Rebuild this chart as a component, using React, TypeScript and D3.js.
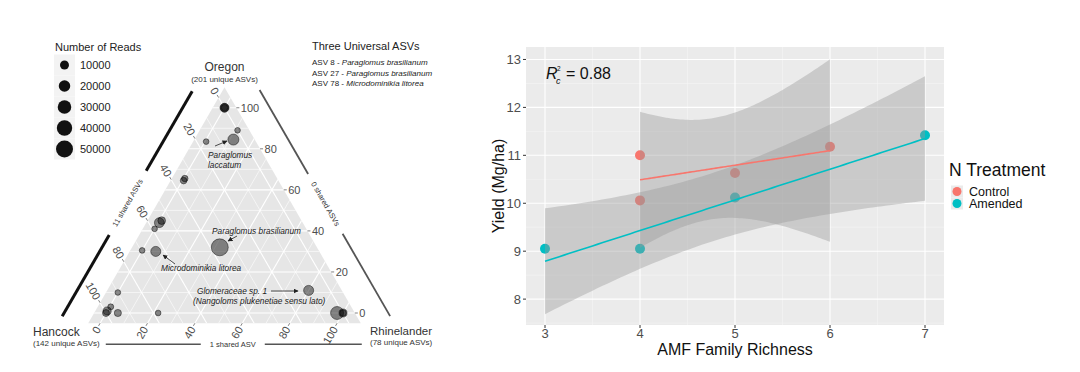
import React, { useEffect, useRef } from "react";
import * as d3 from "d3";

// ---- ternary panel (left) ----
const ternOregon = [100, 100, 100, 89, 84.5, 83.5, 64.5, 65.5, 44, 45, 41, 30.5, 30, 32, 10, 1, 0, 3, 0, 0, 11, 0, 0, 0];
const ternHancock = [0, 0, 0, 0, 4, 16, 35, 34, 55.5, 54, 59, 69.5, 64, 36, 90, 99, 100, 96.5, 95, 78, 9, 2.5, 0, 0];
const ternRhinelander = [0, 0, 0, 11, 11.5, 0.5, 0.5, 0.5, 0.5, 1, 0, 0, 6, 32, 0, 0, 0, 0.5, 5, 22, 80, 97.5, 100, 100];
const ternReads = [10000, 8000, 3000, 800, 18000, 800, 3000, 2500, 13000, 6000, 800, 800, 14000, 50000, 800, 7000, 4000, 1500, 4500, 800, 14000, 27000, 7000, 3000];
const readBreaks = [10000, 20000, 30000, 40000, 50000];
const ternTicks = [0, 20, 40, 60, 80, 100];
const universalAsvs = ["ASV 8", "ASV 27", "ASV 78"];
const universalTaxa = ["Paraglomus brasilianum", "Paraglomus brasilianum", "Microdominikia litorea"];

// ---- yield vs richness panel (right) ----
const controlRichness = [4, 4, 5, 6];
const controlYield = [11.0, 10.06, 10.63, 11.18];
const amendedRichness = [3, 4, 5, 7];
const amendedYield = [9.05, 9.05, 10.12, 11.42];
const xTicks = [3, 4, 5, 6, 7];
const yTicks = [8, 9, 10, 11, 12, 13];
const T_CRIT_DF2 = 4.302653;

const FONT = "'Liberation Sans', Arial, sans-serif";

function lmBand(xs: number[], ys: number[]) {
  const n = xs.length;
  const mx = d3.mean(xs)!;
  const my = d3.mean(ys)!;
  const sxx = d3.sum(xs, (x) => (x - mx) ** 2);
  const sxy = d3.sum(xs, (x, i) => (x - mx) * (ys[i] - my));
  const b = sxy / sxx;
  const a = my - b * mx;
  const sse = d3.sum(xs, (x, i) => (ys[i] - (a + b * x)) ** 2);
  const s = Math.sqrt(sse / (n - 2));
  const [x0, x1] = d3.extent(xs) as [number, number];
  return d3.range(81).map((i) => {
    const x = x0 + ((x1 - x0) * i) / 80;
    const fit = a + b * x;
    const se = s * Math.sqrt(1 / n + (x - mx) ** 2 / sxx);
    return { x, fit, lo: fit - T_CRIT_DF2 * se, hi: fit + T_CRIT_DF2 * se };
  });
}

export default function App() {
  const ref = useRef<SVGSVGElement>(null);

  useEffect(() => {
    const svg = d3.select(ref.current);
    svg.selectAll("*").remove();
    svg.append("rect").attr("width", 1080).attr("height", 372).attr("fill", "#fff");

    const defs = svg.append("defs");
    defs.append("marker").attr("id", "arr").attr("viewBox", "0 0 10 10")
      .attr("refX", 9).attr("refY", 5).attr("markerWidth", 5).attr("markerHeight", 5)
      .attr("markerUnits", "userSpaceOnUse").attr("orient", "auto")
      .append("path").attr("d", "M0,0L10,5L0,10Z").attr("fill", "#222");

    // ================= TERNARY =================
    const side = 237;
    const cx = 224.5;
    const baseY = 313;
    const h = (side * Math.sqrt(3)) / 2;
    const vT = [cx, baseY - h];
    const vL = [cx - side / 2, baseY];
    const vR = [cx + side / 2, baseY];
    const pct = d3.scaleLinear().domain([0, 100]).range([0, 1]);
    const proj = (o: number, hh: number, r: number) => {
      const sum = o + hh + r;
      const fo = pct(o) * 100 / sum, fh = pct(hh) * 100 / sum, fr = pct(r) * 100 / sum;
      return [vT[0] * fo + vL[0] * fh + vR[0] * fr, vT[1] * fo + vL[1] * fh + vR[1] * fr];
    };
    const k = 1.15;
    const cen = [cx, baseY - h / 3];
    const grow = (p: number[]) => [cen[0] + (p[0] - cen[0]) * k, cen[1] + (p[1] - cen[1]) * k];
    const gT = grow(vT), gL = grow(vL), gR = grow(vR);
    const triPath = `M${gT}L${gL}L${gR}Z`;

    defs.append("clipPath").attr("id", "triclip").append("path").attr("d", triPath);
    const tern = svg.append("g");
    tern.append("path").attr("d", triPath).attr("fill", "#e6e6e6");

    const grid = tern.append("g").attr("clip-path", "url(#triclip)");
    d3.range(0, 101, 10).forEach((v) => {
      const major = v % 20 === 0;
      const segs = [
        [proj(v, 130 - v, -30), proj(v, -30, 130 - v)],
        [proj(130 - v, v, -30), proj(-30, v, 130 - v)],
        [proj(130 - v, -30, v), proj(-30, 130 - v, v)],
      ];
      segs.forEach(([a, b]) => {
        grid.append("line").attr("x1", a[0]).attr("y1", a[1]).attr("x2", b[0]).attr("y2", b[1])
          .attr("stroke", "#fff").attr("stroke-width", major ? 1.1 : 0.6);
      });
    });

    // ticks and labels
    const inset = (k - 1) * side / (2 * Math.sqrt(3));
    const t0 = inset / Math.sin(Math.PI / 3);
    const axes = [
      { pt: (v: number) => proj(v, 0, 100 - v), dir: [1, 0], rot: 0, anchor: "start" },
      { pt: (v: number) => proj(100 - v, v, 0), dir: [-0.5, -Math.sqrt(3) / 2], rot: 60, anchor: "end" },
      { pt: (v: number) => proj(0, 100 - v, v), dir: [-0.5, Math.sqrt(3) / 2], rot: -60, anchor: "end" },
    ];
    axes.forEach((ax) => {
      ternTicks.forEach((v) => {
        const e = ax.pt(v);
        const a = [e[0] + ax.dir[0] * t0, e[1] + ax.dir[1] * t0];
        const b = [e[0] + ax.dir[0] * (t0 + 3), e[1] + ax.dir[1] * (t0 + 3)];
        const l = [e[0] + ax.dir[0] * (t0 + 4.5), e[1] + ax.dir[1] * (t0 + 4.5)];
        tern.append("line").attr("x1", a[0]).attr("y1", a[1]).attr("x2", b[0]).attr("y2", b[1])
          .attr("stroke", "#666").attr("stroke-width", 0.8);
        tern.append("text").attr("transform", `translate(${l[0]},${l[1]}) rotate(${ax.rot})`)
          .attr("text-anchor", ax.anchor).attr("dominant-baseline", "central")
          .attr("font-size", 11).attr("fill", "#4d4d4d").text(v);
      });
    });

    // points
    const rArea = d3.scaleLinear().domain([0, 50000]).range([7, 72]);
    const rad = (v: number) => Math.sqrt(rArea(v));
    ternOregon.forEach((o, i) => {
      const [px, py] = proj(o, ternHancock[i], ternRhinelander[i]);
      tern.append("circle").attr("cx", px).attr("cy", py).attr("r", rad(ternReads[i]))
        .attr("fill", "#000").attr("fill-opacity", 0.45)
        .attr("stroke", "#000").attr("stroke-opacity", 0.5).attr("stroke-width", 0.9);
    });

    // species annotations
    const note = (x: number, y: number, t: string) =>
      tern.append("text").attr("x", x).attr("y", y).attr("font-size", 8.3).attr("font-style", "italic")
        .attr("fill", "#222").text(t);
    const arrow = (a: number[], b: number[]) =>
      tern.append("line").attr("x1", a[0]).attr("y1", a[1]).attr("x2", b[0]).attr("y2", b[1])
        .attr("stroke", "#222").attr("stroke-width", 0.8).attr("marker-end", "url(#arr)");
    note(208, 158, "Paraglomus");
    note(208, 167.5, "laccatum");
    arrow([215, 146], [227, 141]);
    note(212, 234, "Paraglomus brasilianum");
    arrow([237, 236], [228, 241]);
    note(161, 271, "Microdominikia litorea");
    arrow([175, 264], [163, 255]);
    note(197, 294, "Glomeraceae sp. 1");
    arrow([271, 291], [298, 291]);
    note(193, 304, "(Nangoloms plukenetiae sensu lato)");

    // shared-ASV edge bars (offset outward from the grey triangle)
    const along = (p0: number[], p1: number[], t: number, off: number) => {
      const len = Math.hypot(p1[0] - p0[0], p1[1] - p0[1]);
      const ux = (p1[0] - p0[0]) / len, uy = (p1[1] - p0[1]) / len;
      const nx = uy, ny = -ux;
      return [p0[0] + ux * t + nx * off, p0[1] + uy * t + ny * off];
    };
    const edgeBar = (p0: number[], p1: number[], off: number, tA: number, tB: number, gapA: number, gapB: number,
      label: string, rot: number, color: string, w: number) => {
      [[tA, gapA], [gapB, tB]].forEach(([s, e]) => {
        const a = along(p0, p1, s, off), b = along(p0, p1, e, off);
        tern.append("line").attr("x1", a[0]).attr("y1", a[1]).attr("x2", b[0]).attr("y2", b[1])
          .attr("stroke", color).attr("stroke-width", w);
      });
      const m = along(p0, p1, (gapA + gapB) / 2, off);
      tern.append("text").attr("transform", `translate(${m[0]},${m[1]}) rotate(${rot})`)
        .attr("text-anchor", "middle").attr("dominant-baseline", "central")
        .attr("font-size", 7.5).attr("fill", "#333").text(label);
    };
    edgeBar(gL, gT, 26, -7, 253, 87, 161, "11 shared ASVs", -60, "#111", 3);
    edgeBar(gT, gR, 29, 20, 281, 117, 186, "0 shared ASVs", 60, "#555", 1.8);
    edgeBar(gR, gL, 21, -1, 255, 96, 160, "1 shared ASV", 0, "#555", 1.5);

    // vertex titles
    const vtext = (x: number, y: number, t: string, size: number, anchor: string) =>
      tern.append("text").attr("x", x).attr("y", y).attr("font-size", size).attr("fill", "#333")
        .attr("text-anchor", anchor).text(t);
    vtext(cx, 71, "Oregon", 12, "middle");
    vtext(cx, 82, "(201 unique ASVs)", 8, "middle");
    vtext(33, 336, "Hancock", 12, "start");
    vtext(33, 346, "(142 unique ASVs)", 8, "start");
    vtext(370, 334.5, "Rhinelander", 11.5, "start");
    vtext(370, 345, "(78 unique ASVs)", 8, "start");

    // size legend
    const lg = svg.append("g");
    lg.append("text").attr("x", 55).attr("y", 51).attr("font-size", 11).attr("fill", "#222").text("Number of Reads");
    readBreaks.forEach((v, i) => {
      const yy = 65 + i * 21;
      lg.append("rect").attr("x", 54).attr("y", yy - 10.5).attr("width", 21).attr("height", 21).attr("fill", "#f3f3f3");
      lg.append("circle").attr("cx", 64.5).attr("cy", yy).attr("r", rad(v)).attr("fill", "#111");
      lg.append("text").attr("x", 80).attr("y", yy).attr("dominant-baseline", "central")
        .attr("font-size", 11).attr("fill", "#222").text(v);
    });

    // universal ASV box
    lg.append("text").attr("x", 312).attr("y", 50).attr("font-size", 11).attr("fill", "#222").text("Three Universal ASVs");
    universalAsvs.forEach((a, i) => {
      const t = lg.append("text").attr("x", 312).attr("y", 65 + i * 10.5).attr("font-size", 8).attr("fill", "#222");
      t.append("tspan").text(`${a} - `);
      t.append("tspan").attr("font-style", "italic").text(universalTaxa[i]);
    });

    // ================= YIELD PANEL =================
    const x = d3.scaleLinear().domain([2.8, 7.2]).range([526, 944]);
    const y = d3.scaleLinear().domain([7.46, 13.26]).range([325, 47]);
    const p = svg.append("g");
    p.append("rect").attr("x", 526).attr("y", 47).attr("width", 418).attr("height", 278).attr("fill", "#ebebeb");
    d3.range(3.5, 7, 1).forEach((v) => p.append("line").attr("x1", x(v)).attr("x2", x(v)).attr("y1", 47).attr("y2", 325)
      .attr("stroke", "#f5f5f5").attr("stroke-width", 0.6));
    d3.range(7.5, 13.1, 1).forEach((v) => p.append("line").attr("y1", y(v)).attr("y2", y(v)).attr("x1", 526).attr("x2", 944)
      .attr("stroke", "#f5f5f5").attr("stroke-width", 0.6));
    xTicks.forEach((v) => p.append("line").attr("x1", x(v)).attr("x2", x(v)).attr("y1", 47).attr("y2", 325)
      .attr("stroke", "#fff").attr("stroke-width", 1.1));
    yTicks.forEach((v) => p.append("line").attr("y1", y(v)).attr("y2", y(v)).attr("x1", 526).attr("x2", 944)
      .attr("stroke", "#fff").attr("stroke-width", 1.1));

    const groups = [
      { xs: controlRichness, ys: controlYield, color: "#F8766D" },
      { xs: amendedRichness, ys: amendedYield, color: "#00BFC4" },
    ];
    groups.forEach((g) => {
      g.xs.forEach((v, i) => p.append("circle").attr("cx", x(v)).attr("cy", y(g.ys[i])).attr("r", 5).attr("fill", g.color));
    });
    const area = d3.area<any>().x((d) => x(d.x)).y0((d) => y(d.lo)).y1((d) => y(d.hi));
    const line = d3.line<any>().x((d) => x(d.x)).y((d) => y(d.fit));
    groups.forEach((g) => {
      const band = lmBand(g.xs, g.ys);
      p.append("path").attr("d", area(band)).attr("fill", "#999999").attr("fill-opacity", 0.4);
    });
    groups.forEach((g) => {
      const band = lmBand(g.xs, g.ys);
      p.append("path").attr("d", line(band)).attr("fill", "none").attr("stroke", g.color).attr("stroke-width", 1.6);
    });

    // axes
    xTicks.forEach((v) => {
      p.append("line").attr("x1", x(v)).attr("x2", x(v)).attr("y1", 325).attr("y2", 328).attr("stroke", "#333");
      p.append("text").attr("x", x(v)).attr("y", 338).attr("text-anchor", "middle").attr("font-size", 13)
        .attr("fill", "#4d4d4d").text(v);
    });
    yTicks.forEach((v) => {
      p.append("line").attr("x1", 523).attr("x2", 526).attr("y1", y(v)).attr("y2", y(v)).attr("stroke", "#333");
      p.append("text").attr("x", 521).attr("y", y(v)).attr("dominant-baseline", "central").attr("text-anchor", "end")
        .attr("font-size", 13).attr("fill", "#4d4d4d").text(v);
    });
    p.append("text").attr("x", 735).attr("y", 355).attr("text-anchor", "middle").attr("font-size", 16)
      .attr("fill", "#111").text("AMF Family Richness");
    p.append("text").attr("transform", "translate(504,186) rotate(-90)").attr("text-anchor", "middle")
      .attr("font-size", 16).attr("fill", "#111").text("Yield (Mg/ha)");

    // R_c^2 label
    p.append("text").attr("x", 546).attr("y", 79).attr("font-size", 16).attr("font-style", "italic").attr("fill", "#111").text("R");
    p.append("text").attr("x", 556).attr("y", 84).attr("font-size", 9).attr("font-style", "italic").attr("fill", "#111").text("c");
    p.append("text").attr("x", 557).attr("y", 71).attr("font-size", 6.5).attr("fill", "#111").text("2");
    p.append("text").attr("x", 566).attr("y", 79).attr("font-size", 16).attr("fill", "#111").text("= 0.88");

    // colour legend
    p.append("text").attr("x", 949).attr("y", 176).attr("font-size", 17.5).attr("fill", "#111").text("N Treatment");
    [["Control", "#F8766D"], ["Amended", "#00BFC4"]].forEach(([name, col], i) => {
      const yy = 191.5 + i * 12;
      p.append("rect").attr("x", 951).attr("y", yy - 6).attr("width", 12).attr("height", 12).attr("fill", "#ebebeb");
      p.append("circle").attr("cx", 957).attr("cy", yy).attr("r", 4.5).attr("fill", col);
      p.append("text").attr("x", 969).attr("y", yy).attr("dominant-baseline", "central").attr("font-size", 12.5)
        .attr("fill", "#111").text(name);
    });
  }, []);

  return (
    <svg ref={ref} width={1080} height={372}
      style={{ position: "absolute", left: 0, top: 0, fontFamily: FONT }} />
  );
}
